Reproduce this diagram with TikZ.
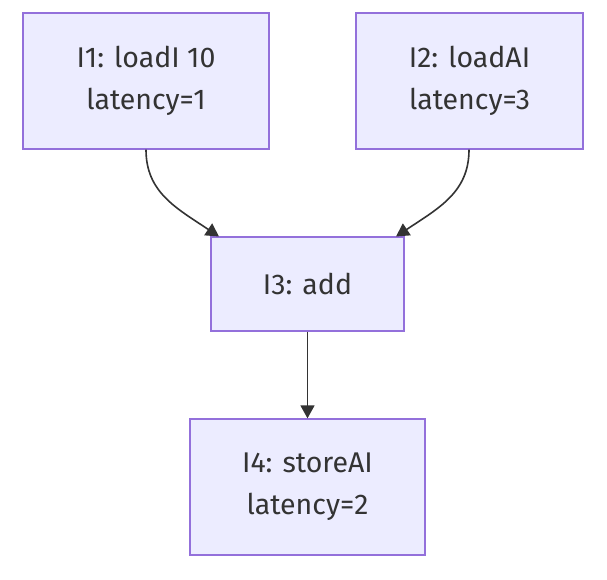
\documentclass[tikz,border=0pt]{standalone}
\usepackage{fontspec}
\setmainfont{Fira Sans}
\usetikzlibrary{arrows.meta}
\definecolor{nodefill}{HTML}{ECECFF}
\definecolor{nodeline}{HTML}{9370DB}
\definecolor{txt}{HTML}{333333}
\tikzset{
  box/.style={draw=nodeline, fill=nodefill, line width=1.3pt, text=txt, align=center,
    font=\fontsize{28.5}{42}\selectfont, inner sep=0pt},
  edge/.style={draw=txt, line width=1.6pt, -{Triangle[length=13pt,width=14pt]}}
}
\begin{document}
\begin{tikzpicture}[x=1pt,y=-1pt]
\useasboundingbox (0,0) rectangle (607,580);
\node[box, minimum width=246pt, minimum height=136pt] (i1) at (146,81) {I1: loadI 10\\latency=1};
\node[box, minimum width=227pt, minimum height=136pt] (i2) at (469.5,81) {I2: loadAI\\latency=3};
\node[box, minimum width=193pt, minimum height=94pt] (i3) at (307.5,284) {I3: add};
\node[box, minimum width=235pt, minimum height=136pt] (i4) at (307.5,487) {I4: storeAI\\latency=2};
\coordinate (a1) at (146,149.7);
\coordinate (b1) at (219,236.5);
\coordinate (a2) at (469,149.7);
\coordinate (b2) at (396,236.5);
\draw[edge] (a1) .. controls (146,192) and (176,208) .. (b1);
\draw[edge] (a2) .. controls (469,192) and (439,208) .. (b2);
\draw[edge] (i3.south) -- (i4.north);
\end{tikzpicture}
\end{document}
